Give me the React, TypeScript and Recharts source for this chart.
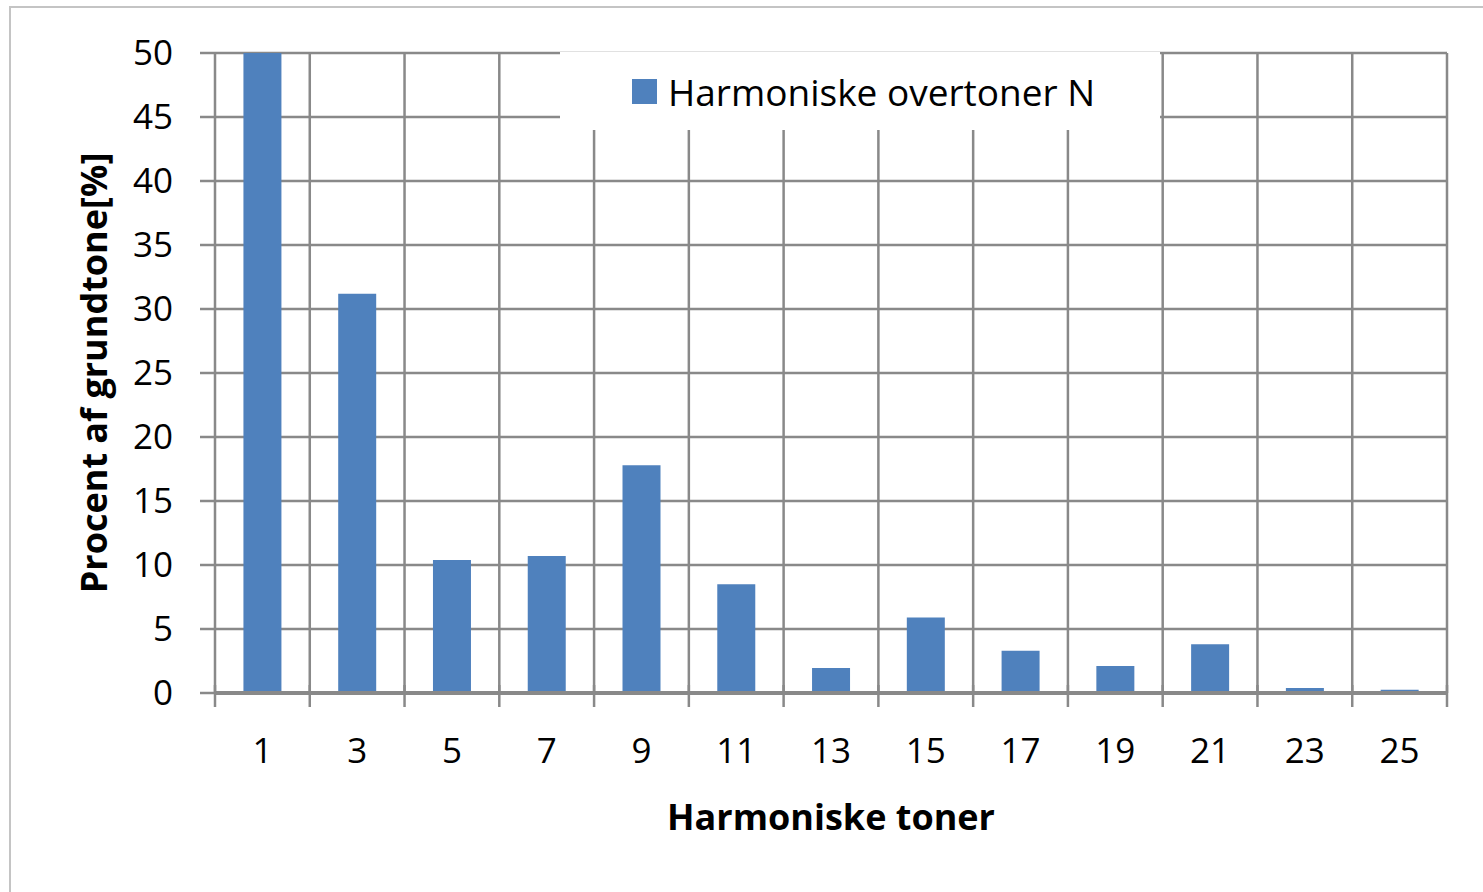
import { BarChart, Bar, XAxis, YAxis, CartesianGrid, Legend } from 'recharts';

// harmoniske toner (kun ulige)
const harmonics = ['1', '3', '5', '7', '9', '11', '13', '15', '17', '19', '21', '23', '25'];
// procent af grundtone
const percent = [50, 31.2, 10.4, 10.7, 17.8, 8.5, 1.95, 5.9, 3.3, 2.1, 3.8, 0.4, 0.25];
const yTicks = [0, 5, 10, 15, 20, 25, 30, 35, 40, 45, 50];

const data = harmonics.map((n, i) => ({ n, value: percent[i] }));

const FONT = '"Open Sans", sans-serif';
const GRID = '#898989';
const BAR = '#4f81bd';

const XTick = (props: any) => {
  const { x, y, payload, index } = props;
  const half = payload.offset || 47;
  return (
    <g>
      <line x1={x - half} x2={x - half} y1={y - 8} y2={y + 14} stroke={GRID} strokeWidth={2.5} />
      {index === harmonics.length - 1 && (
        <line x1={x + half} x2={x + half} y1={y - 8} y2={y + 14} stroke={GRID} strokeWidth={2.5} />
      )}
      <text x={x} y={y + 70} textAnchor="middle" fontSize={35} fill="#000" fontFamily={FONT}>
        {payload.value}
      </text>
    </g>
  );
};

const LegendBox = () => (
  <div
    style={{
      width: 600,
      height: 78,
      background: '#fff',
      display: 'flex',
      alignItems: 'center',
      fontFamily: FONT,
      fontSize: 37,
      color: '#000',
    }}
  >
    <span style={{ display: 'inline-block', width: 25, height: 25, background: BAR, marginLeft: 72, marginRight: 11 }} />
    <span>Harmoniske overtoner N</span>
  </div>
);

export default function App() {
  return (
    <div style={{ position: 'absolute', left: 0, top: 0, width: 1483, height: 892, overflow: 'hidden', background: '#fff' }}>
      <div
        style={{
          position: 'absolute',
          left: 9,
          top: 6,
          width: 1500,
          height: 1000,
          borderTop: '2px solid #c4c4c4',
          borderLeft: '2px solid #c4c4c4',
        }}
      />
      <BarChart
        width={1483}
        height={892}
        data={data}
        margin={{ top: 53, right: 36, left: 0, bottom: 0 }}
        barCategoryGap="30%"
        style={{ position: 'absolute', left: 0, top: 0 }}
      >
        <CartesianGrid
          stroke={GRID}
          strokeWidth={2.5}
          verticalCoordinatesGenerator={({ offset }: any) =>
            harmonics.map((_, i) => offset.left + ((i + 1) * offset.width) / harmonics.length)
          }
        />
        <XAxis
          dataKey="n"
          height={199}
          axisLine={{ stroke: GRID, strokeWidth: 4 }}
          tickLine={false}
          tickSize={0}
          tickMargin={0}
          tick={<XTick />}
          interval={0}
          label={{
            value: 'Harmoniske toner',
            position: 'insideBottom',
            offset: 62,
            style: { fontFamily: FONT, fontSize: 36, fontWeight: 700, fill: '#000' },
          }}
        />
        <YAxis
          width={215}
          domain={[0, 50]}
          ticks={yTicks}
          interval={0}
          axisLine={{ stroke: GRID, strokeWidth: 2.5 }}
          tickLine={{ stroke: GRID, strokeWidth: 2.5 }}
          tickSize={15}
          tickMargin={27}
          tick={{ fontFamily: FONT, fontSize: 35, fill: '#000' }}
          label={{
            value: 'Procent af grundtone[%]',
            angle: -90,
            position: 'insideLeft',
            offset: 94,
            style: { textAnchor: 'middle', fontFamily: FONT, fontSize: 36, fontWeight: 700, fill: '#000' },
          }}
        />
        <Legend
          layout="horizontal"
          verticalAlign="middle"
          content={<LegendBox />}
          wrapperStyle={{ left: 560, top: 52, width: 600, height: 78 }}
        />
        <Bar dataKey="value" name="Harmoniske overtoner N" fill={BAR} isAnimationActive={false} />
      </BarChart>
    </div>
  );
}
